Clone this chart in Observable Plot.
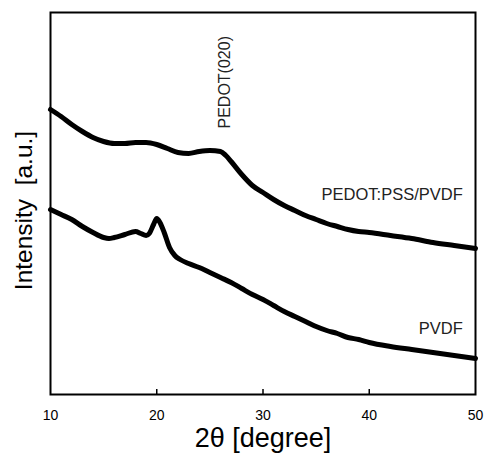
<!DOCTYPE html>
<html>
<head>
<meta charset="utf-8">
<script src="https://cdn.jsdelivr.net/npm/d3@7"></script>
<script src="https://cdn.jsdelivr.net/npm/@observablehq/plot@0.6"></script>
<style>
  html, body { margin: 0; padding: 0; background: #fff; }
  #chart { width: 487px; height: 453px; }
  #chart svg text { white-space: pre; }
</style>
</head>
<body>
<div id="chart"></div>
<script>
// 2θ positions (degree) and intensities (arbitrary units)
const twoThetaBlend = [10,11,12,13,14,15,16,17,18,19,20,21,22,23,24,25,26,26.5,27,28,29,30,31,32,33,34,35,36,37,38,39,40,42,44,46,48,50];
const intensityBlend = [285,278,270,263,257,253,251,251,252,252,250,246,242,241,243,244,243,239,233,220,209,202,195,189,184,179,175,171,168,165,163,162,159,156,152,149,146];

const twoThetaPVDF = [10,11,12,13,14,15,15.5,16,17,18,18.5,19,19.3,19.7,20,20.3,20.7,21.2,21.7,22.2,23,24,25,26,27,28,29,30,31,32,33,34,35,36,37,38,39,40,42,44,46,48,50];
const intensityPVDF = [185,180,175,168,162,157,156,157,160,163,161,159,161,170,176,172,162,147,139,135,131,127,122,117,112,106,100,95,89,83,78,73,68,64,61,57,55,52,48,45,42,39,36];

const xTicks = [10, 20, 30, 40, 50];
const innerTicks = [20, 30, 40];
const seriesLabels = ["PEDOT:PSS/PVDF", "PVDF"];
const peakLabel = "PEDOT(020)";
const xLabel = "2θ [degree]";
const yLabel = "Intensity  [a.u.]";

const blend = twoThetaBlend.map((x, i) => ({x, y: intensityBlend[i]}));
const pvdf = twoThetaPVDF.map((x, i) => ({x, y: intensityPVDF[i]}));

const font = "'Liberation Sans', Arial, Helvetica, sans-serif";

const chart = Plot.plot({
  width: 487,
  height: 453,
  marginLeft: 50,
  marginRight: 12,
  marginTop: 12,
  marginBottom: 59,
  style: {fontFamily: font, background: "#fff", color: "#000"},
  x: {domain: [10, 50]},
  y: {domain: [0, 382]},
  marks: [
    Plot.axisX({ticks: xTicks, tickSize: 0, tickPadding: 16, fontSize: 14, label: null, tickFormat: d => String(d)}),
    Plot.axisY({ticks: [], label: null}),
    Plot.ruleX(innerTicks, {y1: 0, y2: 5, stroke: "#000", strokeWidth: 1.5}),
    Plot.line(blend, {x: "x", y: "y", stroke: "#000", strokeWidth: 5, strokeLinejoin: "round", curve: "monotone-x"}),
    Plot.line(pvdf, {x: "x", y: "y", stroke: "#000", strokeWidth: 5, strokeLinejoin: "round", curve: "monotone-x"}),
    Plot.text([seriesLabels[0]], {x: 48.8, y: 195, text: d => d, textAnchor: "end", lineAnchor: "bottom", fontSize: 16.5, fill: "#222"}),
    Plot.text([seriesLabels[1]], {x: 48.8, y: 61, text: d => d, textAnchor: "end", lineAnchor: "bottom", fontSize: 16.5, fill: "#222"}),
    Plot.text([peakLabel], {x: 26.85, y: 266, text: d => d, rotate: -90, textAnchor: "start", lineAnchor: "bottom", fontSize: 16, fill: "#222"}),
    Plot.text([xLabel], {frameAnchor: "bottom", dy: 52, text: d => d, textAnchor: "middle", lineAnchor: "bottom", fontSize: 27, fill: "#000"}),
    Plot.text([yLabel], {frameAnchor: "left", dx: -26, dy: 7, text: d => d, rotate: -90, textAnchor: "middle", lineAnchor: "middle", fontSize: 24.5, fill: "#000"}),
    Plot.frame({stroke: "#000", strokeWidth: 2})
  ]
});
document.getElementById("chart").appendChild(chart);
</script>
</body>
</html>
